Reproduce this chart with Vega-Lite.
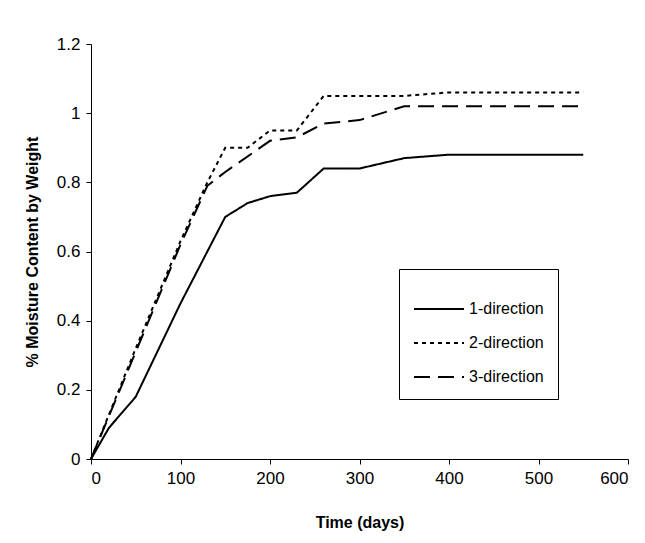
{
  "$schema": "https://vega.github.io/schema/vega-lite/v6.json",
  "width": 537,
  "height": 415,
  "padding": {"left": 24, "top": 35, "right": 5, "bottom": 5},
  "data": {"values": [
    {"t": 0, "m": 0, "s": "1-direction"},
    {"t": 20, "m": 0.09, "s": "1-direction"},
    {"t": 50, "m": 0.18, "s": "1-direction"},
    {"t": 100, "m": 0.45, "s": "1-direction"},
    {"t": 150, "m": 0.70, "s": "1-direction"},
    {"t": 175, "m": 0.74, "s": "1-direction"},
    {"t": 200, "m": 0.76, "s": "1-direction"},
    {"t": 230, "m": 0.77, "s": "1-direction"},
    {"t": 260, "m": 0.84, "s": "1-direction"},
    {"t": 300, "m": 0.84, "s": "1-direction"},
    {"t": 350, "m": 0.87, "s": "1-direction"},
    {"t": 400, "m": 0.88, "s": "1-direction"},
    {"t": 550, "m": 0.88, "s": "1-direction"},
    {"t": 0, "m": 0, "s": "2-direction"},
    {"t": 50, "m": 0.32, "s": "2-direction"},
    {"t": 100, "m": 0.63, "s": "2-direction"},
    {"t": 130, "m": 0.80, "s": "2-direction"},
    {"t": 150, "m": 0.90, "s": "2-direction"},
    {"t": 175, "m": 0.90, "s": "2-direction"},
    {"t": 200, "m": 0.95, "s": "2-direction"},
    {"t": 230, "m": 0.95, "s": "2-direction"},
    {"t": 260, "m": 1.05, "s": "2-direction"},
    {"t": 350, "m": 1.05, "s": "2-direction"},
    {"t": 400, "m": 1.06, "s": "2-direction"},
    {"t": 550, "m": 1.06, "s": "2-direction"},
    {"t": 0, "m": 0, "s": "3-direction"},
    {"t": 50, "m": 0.31, "s": "3-direction"},
    {"t": 100, "m": 0.62, "s": "3-direction"},
    {"t": 130, "m": 0.79, "s": "3-direction"},
    {"t": 150, "m": 0.83, "s": "3-direction"},
    {"t": 200, "m": 0.92, "s": "3-direction"},
    {"t": 230, "m": 0.93, "s": "3-direction"},
    {"t": 260, "m": 0.97, "s": "3-direction"},
    {"t": 300, "m": 0.98, "s": "3-direction"},
    {"t": 350, "m": 1.02, "s": "3-direction"},
    {"t": 550, "m": 1.02, "s": "3-direction"}
  ]},
  "mark": {"type": "line", "color": "black", "strokeWidth": 2},
  "encoding": {
    "x": {"field": "t", "type": "quantitative", "title": "Time (days)",
      "scale": {"domain": [0, 600]}, "axis": {"values": [0,100,200,300,400,500,600], "grid": false, "titlePadding": 28}},
    "y": {"field": "m", "type": "quantitative", "title": "% Moisture Content by Weight",
      "scale": {"domain": [0, 1.2]}, "axis": {"values": [0,0.2,0.4,0.6,0.8,1,1.2], "format": "~g", "grid": false, "titlePadding": 16}},
    "strokeDash": {"field": "s", "type": "nominal", "title": null,
      "scale": {"domain": ["1-direction","2-direction","3-direction"], "range": [[1,0],[4,4],[16,8]]},
      "legend": {"orient": "none", "legendX": 308, "legendY": 225, "strokeColor": "black", "padding": 14,
        "symbolType": "stroke", "symbolSize": 2500, "symbolStrokeWidth": 2, "symbolStrokeColor": "black",
        "labelFontSize": 16, "labelFont": "Liberation Sans", "rowPadding": 0, "labelOffset": 4}}
  },
  "config": {
    "view": {"stroke": null},
    "font": "Liberation Sans",
    "axis": {"domainColor": "black", "tickColor": "black", "labelColor": "black", "labelFontSize": 17,
      "titleFontSize": 16, "titleFontWeight": "bold", "titleColor": "black", "tickSize": 5, "labelPadding": 6}
  }
}
